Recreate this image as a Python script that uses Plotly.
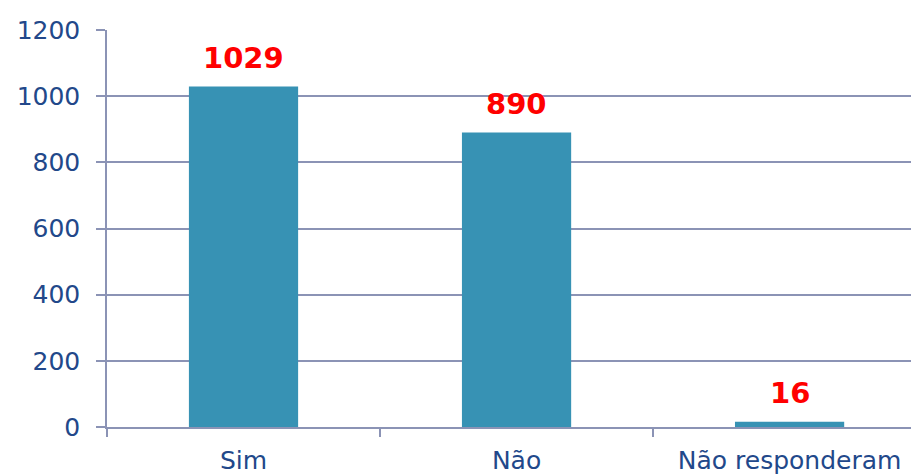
import plotly.graph_objects as go

categories = ["Sim", "Não", "Não responderam"]
values = [1029, 890, 16]
y_ticks = [0, 200, 400, 600, 800, 1000, 1200]

grid = "#8b93b5"
label_blue = "#22488a"

fig = go.Figure()
fig.add_trace(go.Bar(x=categories, y=values, marker=dict(color="#3792b4", line=dict(width=0)),
                     hoverinfo="skip"))

for c, v in zip(categories, values):
    fig.add_annotation(x=c, y=v, text=f"<b>{v}</b>", showarrow=False, yanchor="bottom",
                       yshift=10, font=dict(family="DejaVu Sans", size=29, color="#ff0000"))

fig.update_layout(
    width=911, height=468,
    margin=dict(l=99, r=0, t=22, b=49),
    paper_bgcolor="white", plot_bgcolor="white",
    bargap=0.6, showlegend=False,
    font=dict(family="DejaVu Sans", size=25, color=label_blue),
)
fig.update_xaxes(
    range=[-0.5, 2.474], showline=True, linecolor=grid, linewidth=1.5,
    ticks="outside", tickson="boundaries", ticklen=8, tickcolor=grid, tickwidth=1.5,
    showgrid=False, ticklabelstandoff=10, automargin=False,
    tickfont=dict(family="DejaVu Sans", size=25, color=label_blue),
)
fig.update_yaxes(
    range=[0, 1200], tickvals=y_ticks, showline=True, linecolor=grid, linewidth=1.5,
    showgrid=True, gridcolor=grid, gridwidth=1.5, zeroline=False,
    ticks="outside", ticklen=9, tickcolor=grid, tickwidth=1.5, ticklabelstandoff=11,
    automargin=False,
    tickfont=dict(family="DejaVu Sans", size=25, color=label_blue),
)

fig.write_html("out.html")
